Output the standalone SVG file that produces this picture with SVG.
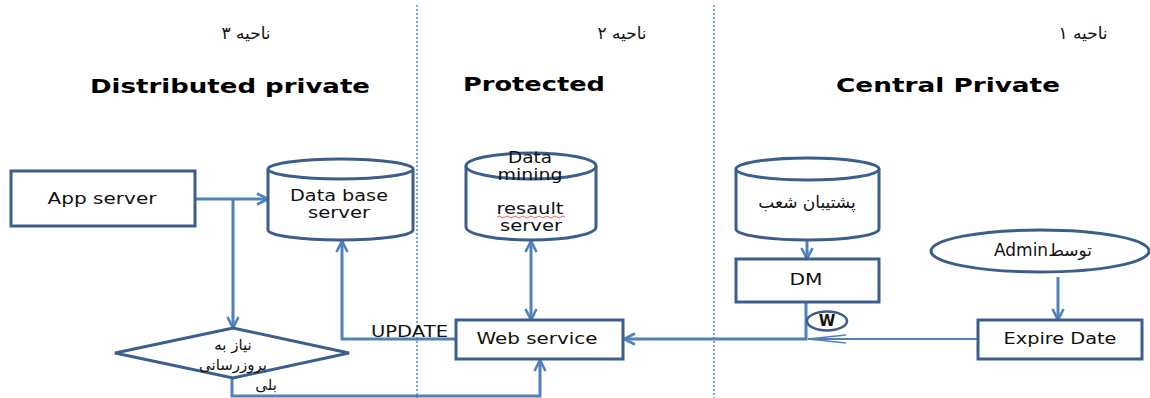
<svg xmlns="http://www.w3.org/2000/svg" width="1150" height="398" viewBox="0 0 1150 398">
<defs>
<style>
.node{fill:#fff;stroke:#3B5F8D;stroke-width:3}
.conn{fill:none;stroke:#4F81BD;stroke-width:3}
.thin{fill:none;stroke:#4F81BD;stroke-width:2}
.div{stroke:#7FA6D6;stroke-width:2;stroke-dasharray:2 2}
.lbl{font-family:"DejaVu Sans","Liberation Sans",sans-serif;font-size:15px;fill:#111}
.fa{font-family:"DejaVu Sans",sans-serif;font-size:17px;fill:#111}
.fs{font-family:"DejaVu Sans",sans-serif;font-size:15px;fill:#111}
.hd{font-family:"DejaVu Sans","Liberation Sans",sans-serif;font-size:19px;font-weight:bold;fill:#000}
</style>
<marker id="arr" viewBox="0 0 14 14" refX="12.5" refY="7" markerWidth="14" markerHeight="14" markerUnits="userSpaceOnUse" orient="auto-start-reverse">
<path d="M1.5,1.5 L12.5,7 L1.5,12.5" fill="none" stroke="#4F81BD" stroke-width="2.6"/>
</marker>
<marker id="arrThin" viewBox="0 0 40 10" refX="39" refY="5" markerWidth="40" markerHeight="10" markerUnits="userSpaceOnUse" orient="auto">
<path d="M1,1 L39,5 L1,9" fill="none" stroke="#4F81BD" stroke-width="1.5"/>
</marker>
</defs>

<g id="dividers">
<line class="div" x1="417" y1="5" x2="417" y2="398"/>
<line class="div" x1="714" y1="5" x2="714" y2="398"/>
</g>

<g id="headers">
<text class="fa" x="246" y="39" text-anchor="middle">ناحیه ۳</text>
<text class="hd" x="90" y="93" textLength="280" lengthAdjust="spacingAndGlyphs">Distributed private</text>
<text class="fa" x="622" y="39" text-anchor="middle">ناحیه ۲</text>
<text class="hd" x="463" y="91" textLength="142" lengthAdjust="spacingAndGlyphs">Protected</text>
<text class="fa" x="1083" y="39" text-anchor="middle">ناحیه ۱</text>
<text class="hd" x="836" y="92" textLength="224" lengthAdjust="spacingAndGlyphs">Central Private</text>
</g>

<g id="connectors">
<path class="conn" d="M195,199 L268,199" marker-end="url(#arr)"/>
<path class="conn" d="M233,199 L233,328" marker-end="url(#arr)"/>
<path class="conn" d="M232,378 L232,396 L540,396 L540,360" marker-end="url(#arr)"/>
<path class="conn" d="M456,339 L342,339 L342,241" marker-end="url(#arr)"/>
<path class="conn" d="M531,241 L531,320" marker-start="url(#arr)" marker-end="url(#arr)"/>
<path class="conn" d="M807,241 L807,259" marker-end="url(#arr)"/>
<path class="conn" d="M806,302 L806,339 L624,339" marker-end="url(#arr)"/>
<path class="thin" d="M978,339 L808,339" marker-end="url(#arrThin)"/>
<path class="conn" d="M1058,277 L1058,320" marker-end="url(#arr)"/>
<text class="lbl" x="371" y="337" textLength="77" lengthAdjust="spacingAndGlyphs">UPDATE</text>
<text class="fs" x="266" y="390" text-anchor="middle">بلی</text>
</g>

<g id="app-server">
<rect class="node" x="11" y="171" width="184" height="55"/>
<text class="lbl" x="102" y="204" text-anchor="middle" textLength="109" lengthAdjust="spacingAndGlyphs">App server</text>
</g>

<g id="db-server">
<path class="node" d="M268,169 L268,230 A72.5,10 0 0 0 413,230 L413,169"/>
<ellipse class="node" cx="340.5" cy="169" rx="72.5" ry="10"/>
<text class="lbl" x="339" y="201" text-anchor="middle" textLength="98" lengthAdjust="spacingAndGlyphs">Data base</text>
<text class="lbl" x="339" y="218" text-anchor="middle" textLength="62" lengthAdjust="spacingAndGlyphs">server</text>
</g>

<g id="decision">
<polygon class="node" points="233,328 349,353 233,378 115,353"/>
<text class="fs" x="233" y="350" text-anchor="middle">نیاز به</text>
<text class="fs" x="233" y="370" text-anchor="middle">بروزرسانی</text>
</g>

<g id="data-mining">
<path class="node" d="M466,166 L466,227 A65,13 0 0 0 596,227 L596,166"/>
<ellipse class="node" cx="531" cy="166" rx="65" ry="13"/>
<text class="lbl" x="530" y="163" text-anchor="middle" textLength="44" lengthAdjust="spacingAndGlyphs">Data</text>
<text class="lbl" x="530" y="180" text-anchor="middle" textLength="65" lengthAdjust="spacingAndGlyphs">mining</text>
<text class="lbl" x="530" y="214" text-anchor="middle" textLength="67" lengthAdjust="spacingAndGlyphs">resault</text>
<path d="M497,217 q2,-2 4,0 t4,0 t4,0 t4,0 t4,0 t4,0 t4,0 t4,0 t4,0 t4,0 t4,0 t4,0 t4,0 t4,0 t4,0 t4,0 t4,0" fill="none" stroke="#E33" stroke-width="0.8"/>
<text class="lbl" x="531" y="231" text-anchor="middle" textLength="62" lengthAdjust="spacingAndGlyphs">server</text>
</g>

<g id="web-service">
<rect class="node" x="456" y="320" width="167" height="39"/>
<text class="lbl" x="537" y="344" text-anchor="middle" textLength="121" lengthAdjust="spacingAndGlyphs">Web service</text>
</g>

<g id="backup">
<path class="node" d="M736,169 L736,229 A71.5,11 0 0 0 879,229 L879,169"/>
<ellipse class="node" cx="807.5" cy="169" rx="71.5" ry="11"/>
<text class="fa" x="807" y="208" text-anchor="middle">پشتیبان شعب</text>
</g>

<g id="dm">
<rect class="node" x="736" y="259" width="143" height="43"/>
<text class="lbl" x="806" y="285" text-anchor="middle" textLength="33" lengthAdjust="spacingAndGlyphs">DM</text>
</g>

<g id="w-mark">
<ellipse cx="827" cy="321" rx="20" ry="9.5" fill="#fff" stroke="#3B5F8D" stroke-width="2.5"/>
<text class="lbl" x="827" y="326" text-anchor="middle" font-weight="bold">W</text>
</g>

<g id="admin">
<ellipse class="node" cx="1040" cy="251" rx="109" ry="21"/>
<text class="fa" x="1043" y="256" text-anchor="middle">Adminتوسط</text>
</g>

<g id="expire-date">
<rect class="node" x="978" y="320" width="164" height="39"/>
<text class="lbl" x="1060" y="344" text-anchor="middle" textLength="113" lengthAdjust="spacingAndGlyphs">Expire Date</text>
</g>
</svg>
